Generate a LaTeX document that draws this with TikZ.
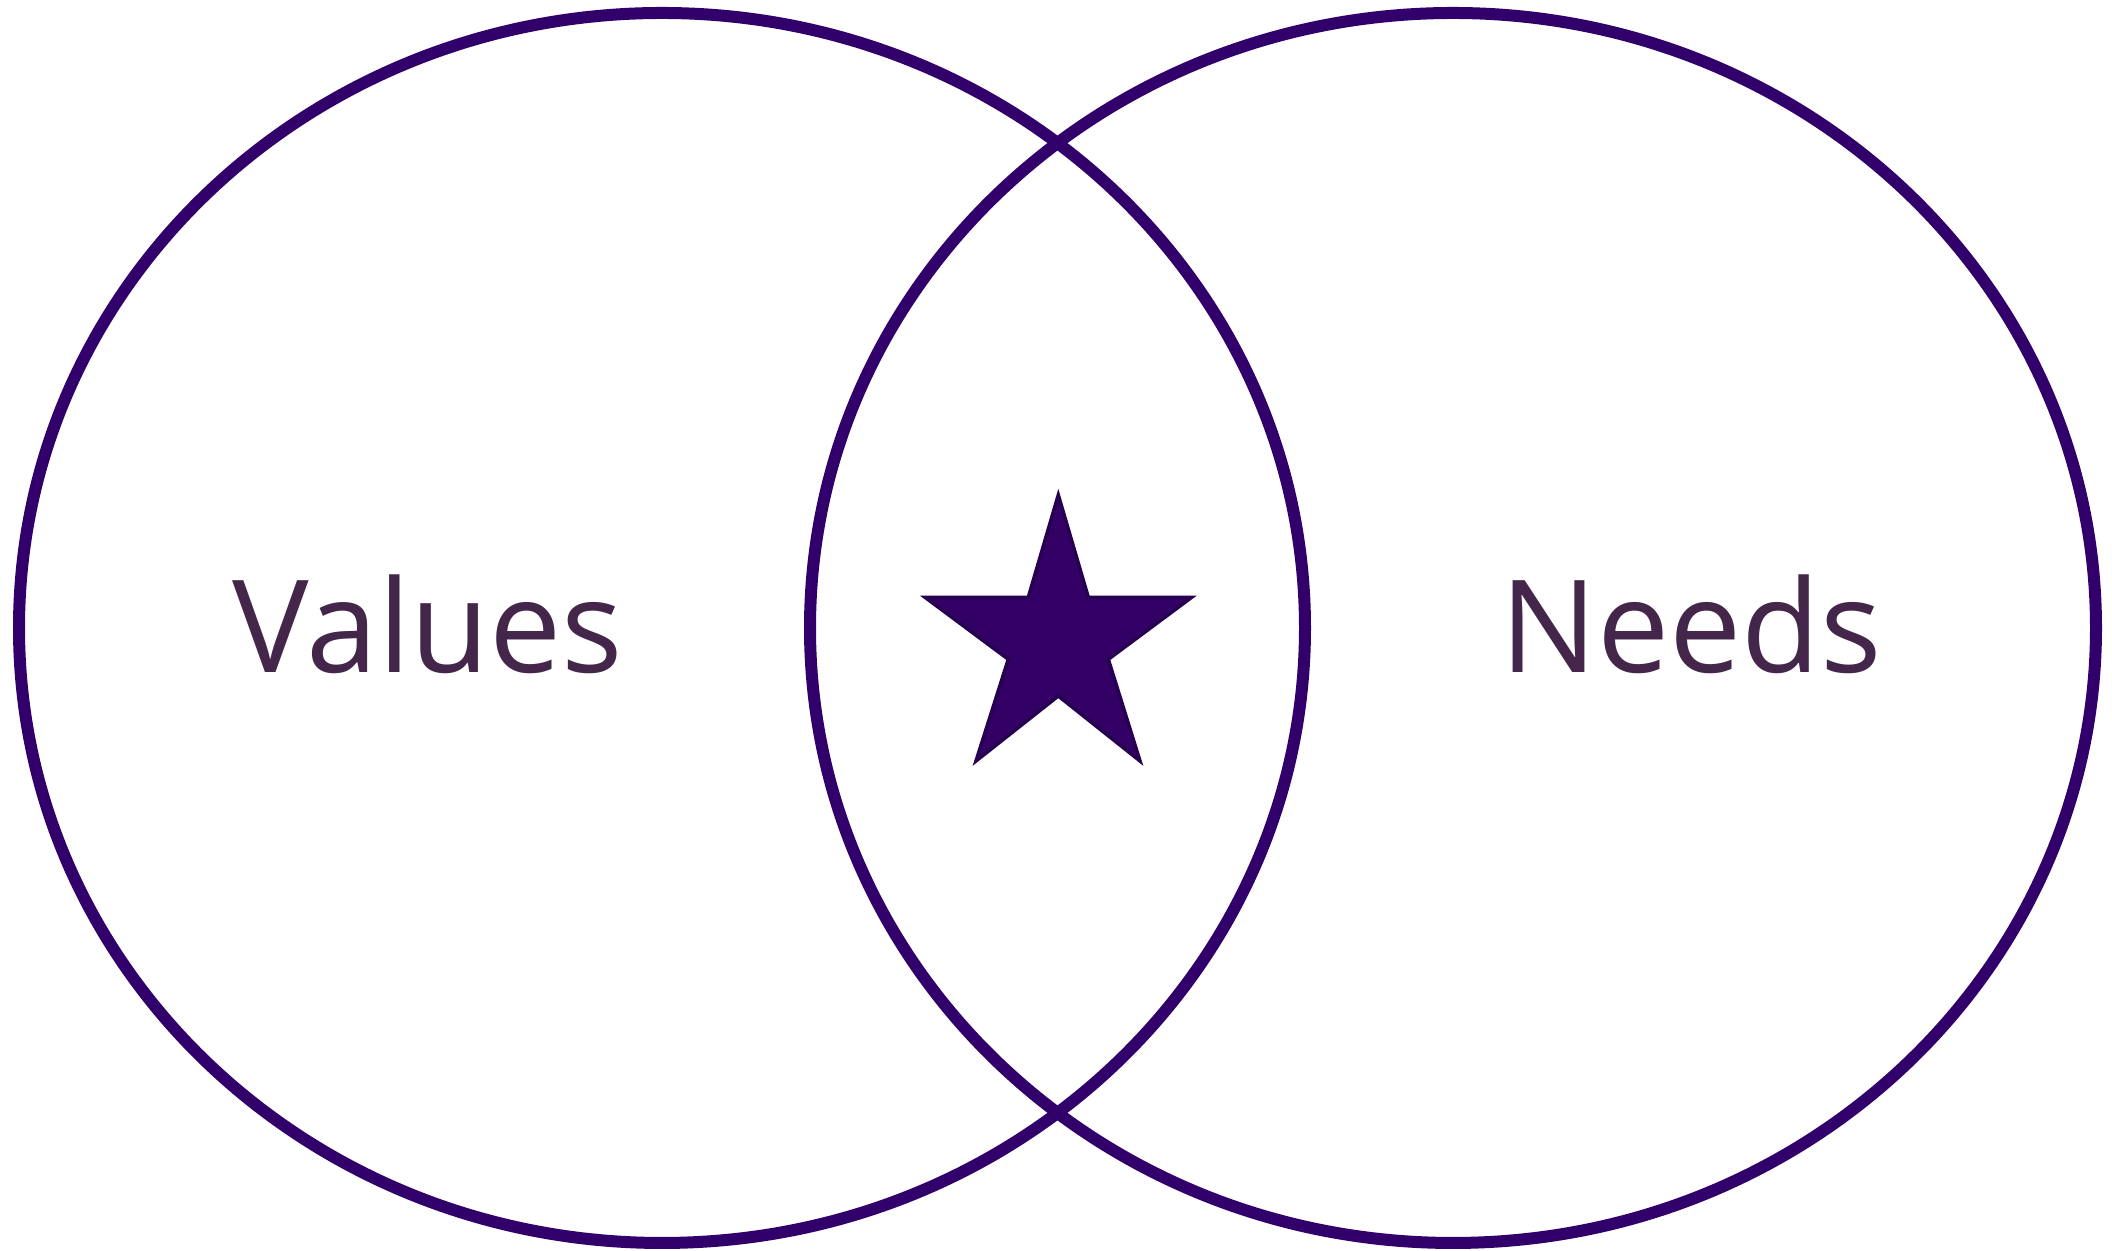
\documentclass[tikz,border=0pt]{standalone}
\usepackage{fontspec}
\setmainfont{Open Sans}
\usepackage{xcolor}
\usepackage{tikz}
\usetikzlibrary{backgrounds}
\usetikzlibrary{shapes,shapes.geometric}
\pgfdeclarelayer{edgelayer}
\pgfdeclarelayer{nodelayer}
\pgfsetlayers{background,edgelayer,nodelayer,main}
\definecolor{ringpurple}{RGB}{50,0,107}
\definecolor{starpurple}{RGB}{51,0,102}
\definecolor{staredge}{RGB}{40,0,82}
\definecolor{setink}{RGB}{67,38,74}
\tikzstyle{none}=[inner sep=0mm]
\tikzstyle{ring}=[shape=ellipse,draw=ringpurple,line width=1.2mm,inner sep=0pt,minimum width=12.86cm,minimum height=12.30cm]
\tikzstyle{setname}=[inner sep=0mm,anchor=base,text=setink,font=\fontsize{36.6pt}{44pt}\selectfont]
\tikzstyle{star fill}=[fill=starpurple,draw=staredge,line width=0.35mm,line join=miter]

\begin{document}
\begin{tikzpicture}
	\useasboundingbox (0, 0) rectangle (21.12, 12.51);
	\begin{pgfonlayer}{nodelayer}
		\node [style=ring] (values) at (6.62, 6.23) {};
		\node [style=ring] (needs) at (14.53, 6.23) {};
		\node [style=setname] (vl) at (4.28, 5.78) {Values};
		\node [style=setname] (nl) at (16.91, 5.78) {Needs};
	\end{pgfonlayer}
	\begin{pgfonlayer}{edgelayer}
		% star in the overlap
		\draw [style=star fill] (10.583, 7.56) -- (10.883, 6.537) -- (11.917, 6.537)
			-- (11.083, 5.917) -- (11.40, 4.90) -- (10.583, 5.55) -- (9.76, 4.90)
			-- (10.083, 5.917) -- (9.25, 6.537) -- (10.283, 6.537) -- cycle;
	\end{pgfonlayer}
\end{tikzpicture}
\end{document}
